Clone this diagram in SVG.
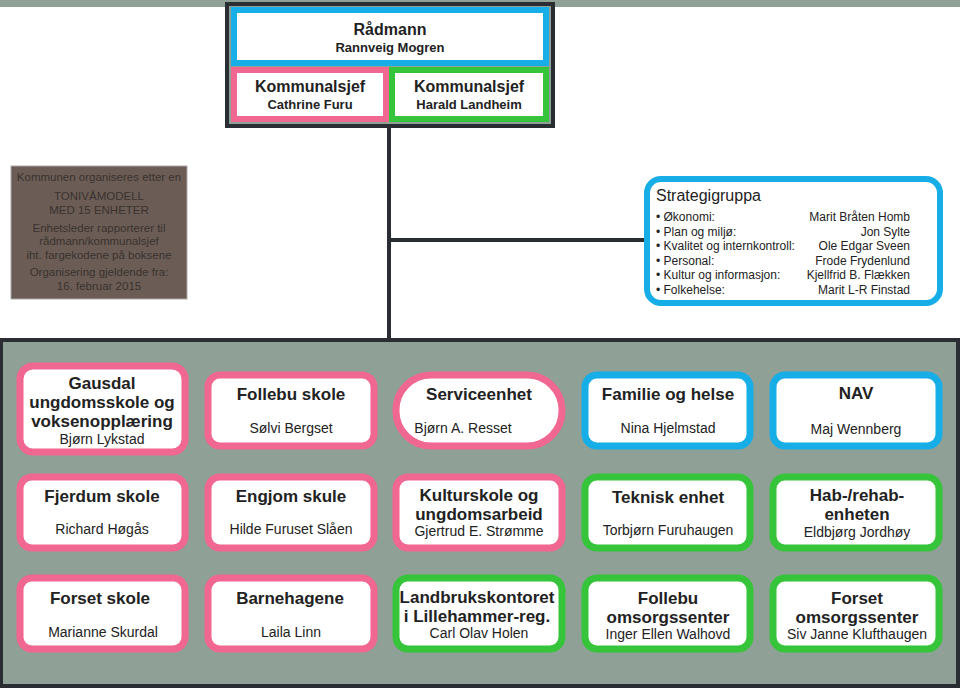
<svg xmlns="http://www.w3.org/2000/svg" width="960" height="688" viewBox="0 0 960 688">
<style>
text{font-family:"Liberation Sans",Arial,sans-serif;fill:#222;text-anchor:middle}
.t{font-size:17px;font-weight:bold}
.n{font-size:14px}
.p{fill:#fff;stroke:#f06792;stroke-width:7}
.g{fill:#fff;stroke:#36c43a;stroke-width:7}
.b{fill:#fff;stroke:#17aee8;stroke-width:7}
.br{font-size:11.5px;fill:#3a3230}
.s{font-size:12px;text-anchor:start;fill:#222}
.sr{font-size:12px;text-anchor:end;fill:#222}
.ln{stroke:#2a2e32;stroke-width:4;fill:none}
</style>
<rect x="0" y="0" width="960" height="688" fill="#fff"/>
<rect x="0" y="0" width="960" height="7" fill="#8fa097"/>
<g id="connectors">
<line class="ln" x1="389" y1="126" x2="389" y2="340"/>
<line class="ln" x1="389" y1="240" x2="646" y2="240"/>
</g>
<g id="top">
<rect x="227" y="4" width="326" height="122" fill="#8fa097" stroke="#2a2e32" stroke-width="4"/>
<rect x="234" y="10" width="312" height="53" fill="#fff" stroke="#17aee8" stroke-width="6"/>
<text x="390" y="35" style="font-size:16px;font-weight:bold">Rådmann</text>
<text x="390" y="52" style="font-size:13px;font-weight:bold">Rannveig Mogren</text>
<rect x="234" y="70" width="152" height="49" fill="#fff" stroke="#f06792" stroke-width="6"/>
<text x="310" y="92" style="font-size:16px;font-weight:bold">Kommunalsjef</text>
<text x="310" y="109" style="font-size:13px;font-weight:bold">Cathrine Furu</text>
<rect x="392" y="70" width="154" height="49" fill="#fff" stroke="#36c43a" stroke-width="6"/>
<text x="469" y="92" style="font-size:16px;font-weight:bold">Kommunalsjef</text>
<text x="469" y="109" style="font-size:13px;font-weight:bold">Harald Landheim</text>
</g>
<g id="info">
<rect x="11" y="166" width="176" height="133" fill="#6b5d55" stroke="#aaa" stroke-width="1"/>
<text class="br" x="99" y="181">Kommunen organiseres etter en</text>
<text class="br" x="99" y="200">TONIVÅMODELL</text>
<text class="br" x="99" y="214">MED 15 ENHETER</text>
<text class="br" x="99" y="232">Enhetsleder rapporterer til</text>
<text class="br" x="99" y="245">rådmann/kommunalsjef</text>
<text class="br" x="99" y="259">iht. fargekodene på boksene</text>
<text class="br" x="99" y="276">Organisering gjeldende fra:</text>
<text class="br" x="99" y="290">16. februar 2015</text>
</g>
<g id="strategigruppa">
<rect x="647" y="179" width="293" height="124" rx="14" fill="#fff" stroke="#17aee8" stroke-width="6"/>
<text x="656" y="201" style="font-size:16px;text-anchor:start">Strategigruppa</text>
<text class="s" x="656" y="221">• Økonomi:</text><text class="sr" x="910" y="221">Marit Bråten Homb</text>
<text class="s" x="656" y="236">• Plan og miljø:</text><text class="sr" x="910" y="236">Jon Sylte</text>
<text class="s" x="656" y="250">• Kvalitet og internkontroll:</text><text class="sr" x="910" y="250">Ole Edgar Sveen</text>
<text class="s" x="656" y="265">• Personal:</text><text class="sr" x="910" y="265">Frode Frydenlund</text>
<text class="s" x="656" y="279">• Kultur og informasjon:</text><text class="sr" x="910" y="279">Kjellfrid B. Flækken</text>
<text class="s" x="656" y="294">• Folkehelse:</text><text class="sr" x="910" y="294">Marit L-R Finstad</text>
</g>
<rect x="1" y="340" width="957" height="346" fill="#8fa097" stroke="#2a2e32" stroke-width="4"/>
<g id="gausdal">
<rect class="p" x="20" y="366" width="165" height="86" rx="13"/>
<text class="t" x="102" y="389">Gausdal</text>
<text class="t" x="102" y="408">ungdomsskole og</text>
<text class="t" x="102" y="427">voksenopplæring</text>
<text class="n" x="102" y="444">Bjørn Lykstad</text>
</g>
<g id="follebu-skole">
<rect class="p" x="208" y="375" width="166" height="71" rx="12"/>
<text class="t" x="291" y="400">Follebu skole</text>
<text class="n" x="291" y="433">Sølvi Bergset</text>
</g>
<g id="serviceenhet">
<rect class="p" x="396" y="375" width="166" height="71" rx="35"/>
<text class="t" x="479" y="400">Serviceenhet</text>
<text class="n" x="463" y="433">Bjørn A. Resset</text>
</g>
<g id="familie">
<rect class="b" x="585" y="375" width="165" height="71" rx="12"/>
<text class="t" x="668" y="400">Familie og helse</text>
<text class="n" x="668" y="433">Nina Hjelmstad</text>
</g>
<g id="nav">
<rect class="b" x="773" y="375" width="166" height="71" rx="12"/>
<text class="t" x="856" y="399">NAV</text>
<text class="n" x="856" y="434">Maj Wennberg</text>
</g>
<g id="fjerdum">
<rect class="p" x="20" y="477" width="165" height="71" rx="12"/>
<text class="t" x="102" y="502">Fjerdum skole</text>
<text class="n" x="102" y="534">Richard Høgås</text>
</g>
<g id="engjom">
<rect class="p" x="208" y="477" width="166" height="71" rx="12"/>
<text class="t" x="291" y="502">Engjom skule</text>
<text class="n" x="291" y="534">Hilde Furuset Slåen</text>
</g>
<g id="kulturskole">
<rect class="p" x="396" y="477" width="166" height="71" rx="12"/>
<text class="t" x="479" y="501">Kulturskole og</text>
<text class="t" x="479" y="520">ungdomsarbeid</text>
<text class="n" x="479" y="536">Gjertrud E. Strømme</text>
</g>
<g id="teknisk">
<rect class="g" x="585" y="477" width="165" height="71" rx="12"/>
<text class="t" x="668" y="503">Teknisk enhet</text>
<text class="n" x="668" y="535">Torbjørn Furuhaugen</text>
</g>
<g id="hab">
<rect class="g" x="773" y="477" width="166" height="71" rx="12"/>
<text class="t" x="857" y="501">Hab-/rehab-</text>
<text class="t" x="857" y="520">enheten</text>
<text class="n" x="857" y="537">Eldbjørg Jordhøy</text>
</g>
<g id="forset-skole">
<rect class="p" x="20" y="578" width="165" height="71" rx="12"/>
<text class="t" x="100" y="604">Forset skole</text>
<text class="n" x="103" y="637">Marianne Skurdal</text>
</g>
<g id="barnehagene">
<rect class="p" x="208" y="578" width="166" height="71" rx="12"/>
<text class="t" x="290" y="604">Barnehagene</text>
<text class="n" x="291" y="637">Laila Linn</text>
</g>
<g id="landbruk">
<rect class="g" x="396" y="578" width="166" height="71" rx="12"/>
<text class="t" x="477" y="603">Landbrukskontoret</text>
<text class="t" x="477" y="622">i Lillehammer-reg.</text>
<text class="n" x="479" y="638">Carl Olav Holen</text>
</g>
<g id="follebu-omsorg">
<rect class="g" x="585" y="578" width="165" height="71" rx="12"/>
<text class="t" x="668" y="604">Follebu</text>
<text class="t" x="668" y="623">omsorgssenter</text>
<text class="n" x="668" y="639">Inger Ellen Walhovd</text>
</g>
<g id="forset-omsorg">
<rect class="g" x="773" y="578" width="166" height="71" rx="12"/>
<text class="t" x="857" y="604">Forset</text>
<text class="t" x="857" y="623">omsorgssenter</text>
<text class="n" x="857" y="639">Siv Janne Klufthaugen</text>
</g>
</svg>
